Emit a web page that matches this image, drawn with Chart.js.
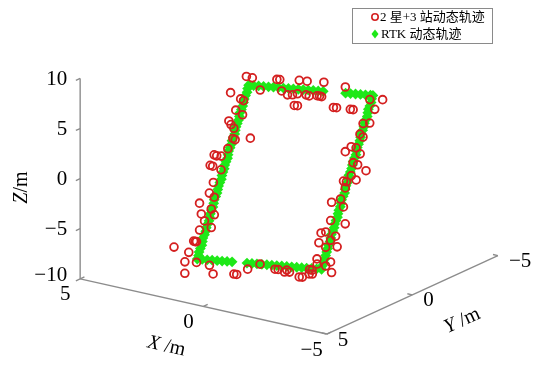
<!DOCTYPE html>
<html><head><meta charset="utf-8">
<script src="https://cdn.jsdelivr.net/npm/chart.js@4/dist/chart.umd.min.js"></script>
<style>html,body{margin:0;padding:0;background:#fff;}canvas{display:block;}</style>
</head><body>
<canvas id="c" width="536" height="365"></canvas>
<script>
// ---- series names ----
const seriesNames = ['2 星+3 站动态轨迹', 'RTK 动态轨迹'];

// ---- "2 星+3 站" dynamic trajectory (m) ----
const starX = [1.44,2.10,1.65,1.52,1.71,1.40,1.85,1.73,1.58,0.84,1.50,1.40,1.58,2.03,1.92,1.75,2.06,1.95,1.60,1.75,1.78,1.55,2.04,1.53,1.85,1.35,1.65,1.32,1.74,1.84,1.72,1.78,1.90,1.94,2.52,1.81,1.49,
  1.11,0.99,0.32,0.22,-0.12,-0.52,-1.00,-1.10,-1.31,-1.47,-1.78,-1.88,-2.10,-2.20,-1.38,
  -2.44,-2.69,-2.44,-2.59,-2.25,-2.45,-2.08,-2.67,-2.50,-2.70,-3.08,-2.58,-2.81,-2.34,-2.46,-2.49,-2.43,-2.13,-2.63,-2.89,-2.30,-2.24,-2.07,-2.66,-2.52,-2.10,-2.41,-2.84,-2.21,-2.76,-2.62,-2.92,-2.27,-2.15,-2.05,
  0.59,0.50,-0.13,-0.38,1.13,0.44,0.25,0.09,-0.07,-0.35,-0.45,-0.70,-0.78,-0.85,0.03,-0.07,-1.23,-1.33,-1.77,-1.87,-2.40,-2.56,1.57,-0.92,-2.81,-1.61];
const starY = [0.07,0.39,0.45,0.47,0.65,0.70,0.85,0.90,0.95,1.05,1.12,1.13,1.30,1.45,1.46,1.44,1.64,1.65,1.67,1.90,2.09,2.14,2.29,2.34,2.46,2.42,2.56,2.64,2.72,2.92,2.93,2.92,3.12,3.29,3.09,3.48,3.26,
  3.05,3.01,2.76,2.74,2.59,2.44,2.26,2.22,2.15,2.09,1.97,1.93,1.85,1.81,2.12,
  -0.81,-0.84,-0.63,-0.59,-0.39,-0.39,-0.29,-0.31,-0.14,-0.12,-0.06,0.08,0.13,0.19,0.19,0.30,0.49,0.58,0.61,0.88,0.88,1.08,1.11,1.11,1.20,1.28,1.33,1.28,1.55,1.55,1.63,1.72,1.63,1.75,1.75,
  -0.14,-0.18,-0.41,-0.51,0.06,-0.20,-0.27,-0.33,-0.39,-0.49,-0.53,-0.63,-0.66,-0.68,-0.35,-0.39,-0.82,-0.86,-1.03,-1.05,-1.26,-1.32,0.23,-0.71,-1.42,-0.97];
const starZ = [8.16,6.57,6.24,6.16,5.24,4.99,4.24,3.99,3.74,3.24,2.90,2.85,1.98,1.23,1.20,1.25,0.32,0.30,0.15,-1.02,-1.95,-2.19,-2.94,-3.20,-3.78,-3.62,-4.29,-4.70,-5.12,-6.12,-6.10,-6.14,-7.12,-7.96,-6.96,-8.88,-7.79,
  -8.03,-8.86,-8.70,-8.70,-8.10,-7.50,-7.88,-7.88,-8.08,-8.04,-8.45,-8.44,-8.07,-8.05,-7.87,
  5.04,5.21,4.13,3.96,2.96,2.96,2.45,2.54,1.70,1.62,1.28,0.62,0.36,0.03,0.03,-0.48,-1.47,-1.89,-2.06,-3.39,-3.39,-4.40,-4.57,-4.57,-4.98,-5.40,-5.65,-5.40,-6.74,-6.74,-7.16,-7.58,-7.16,-7.74,-7.74,
  8.31,8.31,8.40,8.37,7.11,7.19,6.85,6.90,7.04,7.01,6.93,7.01,7.00,6.95,5.85,5.85,5.98,5.98,5.93,5.93,7.06,6.13,8.35,8.41,7.16,8.11];

// ---- RTK dynamic trajectory (m) ----
// left edge (bottom -> top), top edge, right edge (top -> bottom), bottom edge
const rtkX = [1.50,1.49,1.51,1.50,1.48,1.50,1.52,1.50,1.49,1.51,1.50,1.48,1.50,1.51,1.50,1.49,1.50,1.52,1.50,1.49,1.50,1.51,1.50,1.48,1.50,1.50,
  1.49,1.51,1.50,1.48,1.50,1.52,1.50,1.49,1.51,1.50,1.48,1.50,1.51,1.50,1.49,1.50,1.52,1.50,1.49,1.50,1.51,1.50,1.48,1.50,1.50,
  1.34,1.18,1.02,0.86,0.70,0.54,0.38,0.22,0.06,-0.10,-0.26,-0.42,-0.58,-0.74,-0.90,-1.62,-1.78,-1.94,-2.10,-2.26,-2.42,
  -2.50,-2.49,-2.51,-2.50,-2.48,-2.50,-2.52,-2.50,-2.49,-2.51,-2.50,-2.48,-2.50,-2.51,-2.50,-2.49,-2.50,-2.52,-2.50,-2.49,-2.50,-2.51,-2.50,-2.48,-2.50,
  -2.51,-2.49,-2.50,-2.52,-2.50,-2.48,-2.50,-2.51,-2.49,-2.50,-2.52,-2.50,-2.49,-2.51,-2.50,-2.48,-2.50,-2.51,-2.49,-2.50,-2.50,-2.50,-2.51,-2.50,-2.49,-2.50,
  -2.34,-2.18,-2.02,-1.86,-1.70,-1.54,-1.38,-1.22,-1.06,-0.90,-0.74,-0.58,-0.42,-0.26,-0.10,0.38,0.54,0.70,0.86,1.02,1.18,1.34];
const rtkY = [3.20,3.14,3.08,3.02,2.96,2.90,2.84,2.78,2.72,2.66,2.60,2.54,2.48,2.42,2.36,2.30,2.24,2.18,2.12,2.06,2.00,1.94,1.88,1.82,1.76,1.70,
  1.64,1.58,1.52,1.46,1.40,1.34,1.28,1.22,1.16,1.10,1.04,0.98,0.92,0.86,0.80,0.74,0.68,0.62,0.56,0.50,0.44,0.38,0.32,0.26,0.20,
  0.14,0.08,0.02,-0.04,-0.10,-0.16,-0.22,-0.28,-0.34,-0.40,-0.46,-0.52,-0.58,-0.64,-0.70,-0.97,-1.03,-1.09,-1.15,-1.21,-1.27,
  -1.30,-1.24,-1.18,-1.12,-1.06,-1.00,-0.94,-0.88,-0.82,-0.76,-0.70,-0.64,-0.58,-0.52,-0.46,-0.40,-0.34,-0.28,-0.22,-0.16,-0.10,-0.04,0.02,0.08,0.14,
  0.20,0.26,0.32,0.38,0.44,0.50,0.56,0.62,0.68,0.74,0.80,0.86,0.92,0.98,1.04,1.10,1.16,1.22,1.28,1.34,1.40,1.46,1.52,1.58,1.64,1.70,
  1.76,1.82,1.88,1.94,2.00,2.06,2.12,2.18,2.24,2.30,2.36,2.42,2.48,2.54,2.60,2.78,2.84,2.90,2.96,3.02,3.08,3.14];
const rtkZ = [-7.5,-7.2,-6.9,-6.6,-6.3,-6.0,-5.7,-5.4,-5.1,-4.8,-4.5,-4.2,-3.9,-3.6,-3.3,-3.0,-2.7,-2.4,-2.1,-1.8,-1.5,-1.2,-0.9,-0.6,-0.3,0.0,
  0.3,0.6,0.9,1.2,1.5,1.8,2.1,2.4,2.7,3.0,3.3,3.6,3.9,4.2,4.5,4.8,5.1,5.4,5.7,6.0,6.3,6.6,6.9,7.2,7.5,
  7.5,7.5,7.5,7.5,7.5,7.5,7.5,7.5,7.5,7.5,7.5,7.5,7.5,7.5,7.5,7.5,7.5,7.5,7.5,7.5,7.5,
  7.5,7.2,6.9,6.6,6.3,6.0,5.7,5.4,5.1,4.8,4.5,4.2,3.9,3.6,3.3,3.0,2.7,2.4,2.1,1.8,1.5,1.2,0.9,0.6,0.3,
  0.0,-0.3,-0.6,-0.9,-1.2,-1.5,-1.8,-2.1,-2.4,-2.7,-3.0,-3.3,-3.6,-3.9,-4.2,-4.5,-4.8,-5.1,-5.4,-5.7,-6.0,-6.3,-6.6,-6.9,-7.2,-7.5,
  -7.5,-7.5,-7.5,-7.5,-7.5,-7.5,-7.5,-7.5,-7.5,-7.5,-7.5,-7.5,-7.5,-7.5,-7.5,-7.5,-7.5,-7.5,-7.5,-7.5,-7.5,-7.5];

// ---- axes ----
const xRange = [-5, 5], yRange = [-5, 5], zRange = [-10, 10];
const xTicks = [5, 0, -5];
const yTicks = [5, 0, -5];
const zTicks = [-10, -5, 0, 5, 10];
const axisNames = ['X', 'Y', 'Z'];
const axisUnit = '/m';

// ---- 3-D view (oblique projection basis) ----
const VIEW = { ex: [-2.52, -0.57], ey: [-1.75, 0.81], ez: [0, -1.035] };
function project(X, Y, Z) {
  return { x: VIEW.ex[0]*X + VIEW.ey[0]*Y + VIEW.ez[0]*Z,
           y: VIEW.ex[1]*X + VIEW.ey[1]*Y + VIEW.ez[1]*Z };
}
const toPoints = (X, Y, Z) => X.map((v, i) => project(v, Y[i], Z[i]));

const RED = 'rgb(212,32,32)';
const GREEN = 'rgb(30,232,24)';
const SERIF = "'Liberation Serif','Times New Roman',serif";
const fmt = v => String(v).replace('-', '\u2212');

function drawMixed(ctx, parts, size, x, y, angle) {
  ctx.save();
  ctx.translate(x, y); ctx.rotate(angle);
  ctx.textBaseline = 'middle';
  let total = 0;
  parts.forEach(p => { ctx.font = (p[1] ? 'italic ' : '') + size + 'px ' + SERIF; total += ctx.measureText(p[0]).width; });
  let cx = -total/2;
  ctx.textAlign = 'left';
  parts.forEach(p => { ctx.font = (p[1] ? 'italic ' : '') + size + 'px ' + SERIF; ctx.fillText(p[0], cx, 0); cx += ctx.measureText(p[0]).width; });
  ctx.restore();
}

const axes3d = {
  id: 'axes3d',
  beforeDatasetsDraw(chart) {
    const ctx = chart.ctx, sx = chart.scales.x, sy = chart.scales.y;
    const P = (X, Y, Z) => { const q = project(X, Y, Z); return [sx.getPixelForValue(q.x), sy.getPixelForValue(q.y)]; };
    const line = (a, b) => { ctx.beginPath(); ctx.moveTo(a[0], a[1]); ctx.lineTo(b[0], b[1]); ctx.stroke(); };
    const xe = xRange[1], ye = yRange[1], zb = zRange[0];
    ctx.save();
    ctx.strokeStyle = '#8c8c8c'; ctx.lineWidth = 1.4;
    line(P(xe, ye, zRange[0]), P(xe, ye, zRange[1]));      // Z axis
    line(P(xRange[1], ye, zb), P(xRange[0], ye, zb));      // X axis
    line(P(xRange[0], yRange[1], zb), P(xRange[0], yRange[0], zb)); // Y axis
    zTicks.forEach(t => line(P(xe, ye, t), P(xe, ye + 0.25, t)));
    xTicks.forEach(t => line(P(t, ye, zb), P(t, ye - 0.25, zb)));
    yTicks.forEach(t => line(P(xRange[0], t, zb), P(xRange[0] + 0.2, t, zb)));
    ctx.fillStyle = '#000';
    ctx.font = '21px ' + SERIF;
    ctx.textBaseline = 'middle';
    ctx.textAlign = 'right';
    zTicks.forEach(t => { const p = P(xe, ye, t); ctx.fillText(fmt(t), p[0] - 13, p[1] + (t === zRange[0] ? -3 : 1)); });
    ctx.textAlign = 'center';
    xTicks.forEach(t => { const p = P(t, ye, zb); ctx.fillText(fmt(t), p[0] - 15, p[1] + 16); });
    ctx.textAlign = 'left';
    yTicks.forEach(t => { const p = P(xRange[0], t, zb); ctx.fillText(fmt(t), p[0] + 11, p[1] + 6); });
    const pz = P(xe, ye, 0);
    drawMixed(ctx, [[axisNames[2], true], [axisUnit, false]], 20, pz[0] - 58, pz[1] + 9, -Math.PI/2);
    const px = P(0, ye, zb);
    drawMixed(ctx, [[axisNames[0], true], [' ' + axisUnit, false]], 20, px[0] - 37, px[1] + 40, 0.22);
    const py = P(xRange[0], 0, zb);
    drawMixed(ctx, [[axisNames[1], true], [' ' + axisUnit, false]], 20, py[0] + 50, py[1] + 26, -0.43);
    ctx.restore();
  },
  afterDraw(chart) {
    const ctx = chart.ctx;
    const bx = 352, by = 8, bw = 140, bh = 35;
    ctx.save();
    ctx.fillStyle = '#fff'; ctx.fillRect(bx, by, bw, bh);
    ctx.strokeStyle = '#8a8a8a'; ctx.lineWidth = 1;
    ctx.strokeRect(bx + 0.5, by + 0.5, bw, bh);
    const ds = chart.data.datasets;
    const y1 = by + 9, y2 = by + 26, mx = bx + 23;
    ctx.beginPath(); ctx.arc(mx, y1, 3.2, 0, Math.PI*2);
    ctx.strokeStyle = ds[0].borderColor; ctx.lineWidth = 1.6; ctx.stroke();
    ctx.beginPath(); ctx.moveTo(mx, y2 - 4.5); ctx.lineTo(mx + 3.5, y2); ctx.lineTo(mx, y2 + 4.5); ctx.lineTo(mx - 3.5, y2); ctx.closePath();
    ctx.fillStyle = ds[1].backgroundColor; ctx.fill();
    ctx.fillStyle = '#000';
    ctx.font = "13px 'Liberation Serif','Noto Sans CJK SC',serif";
    ctx.textBaseline = 'middle'; ctx.textAlign = 'left';
    ctx.fillText(ds[0].label, mx + 5, y1 + 1);
    ctx.fillText(ds[1].label, mx + 6, y2 + 1);
    ctx.restore();
  }
};

new Chart(document.getElementById('c'), {
  type: 'scatter',
  data: {
    datasets: [
      { label: seriesNames[0], data: toPoints(starX, starY, starZ), pointStyle: 'circle', pointRadius: 3.9,
        borderColor: RED, backgroundColor: 'rgba(0,0,0,0)', borderWidth: 1.8 },
      { label: seriesNames[1], data: toPoints(rtkX, rtkY, rtkZ), pointStyle: 'rectRot', pointRadius: 5.4,
        borderColor: GREEN, backgroundColor: GREEN, borderWidth: 0 }
    ]
  },
  options: {
    responsive: false, animation: false, events: [],
    layout: { padding: 0 },
    plugins: { legend: { display: false }, tooltip: { enabled: false } },
    scales: {
      x: { type: 'linear', display: false, min: -28.95, max: 24.65 },
      y: { type: 'linear', display: false, reverse: true, min: -16.65, max: 19.85 }
    }
  },
  plugins: [axes3d]
});
</script>
</body></html>
